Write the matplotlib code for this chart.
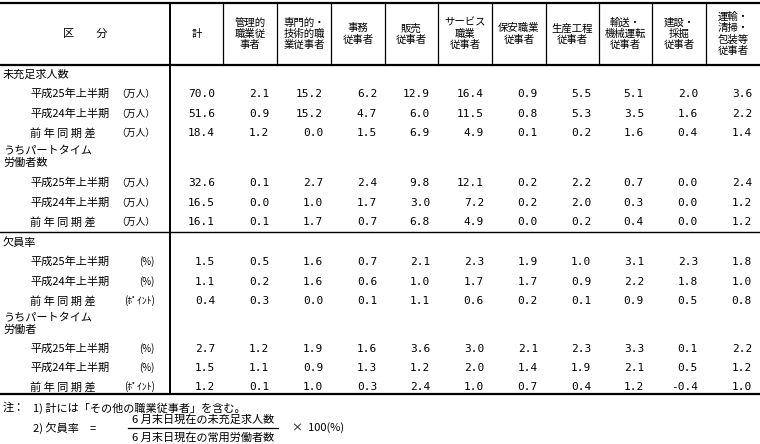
import matplotlib
matplotlib.use("Agg")
import matplotlib.pyplot as plt

plt.rcParams['font.family'] = ['Noto Sans CJK JP', 'DejaVu Sans']

headers = ["計", "管理的\n職業従\n事者", "専門的・\n技術的職\n業従事者", "事務\n従事者", "販売\n従事者",
           "サービス\n職業\n従事者", "保安職業\n従事者", "生産工程\n従事者", "輸送・\n機械運転\n従事者",
           "建設・\n採掘\n従事者", "運輸・\n清掃・\n包装等\n従事者"]

row_labels = ["平成25年上半期", "平成24年上半期", "前 年 同 期 差"]

vac_all = [[70.0, 2.1, 15.2, 6.2, 12.9, 16.4, 0.9, 5.5, 5.1, 2.0, 3.6],
           [51.6, 0.9, 15.2, 4.7, 6.0, 11.5, 0.8, 5.3, 3.5, 1.6, 2.2],
           [18.4, 1.2, 0.0, 1.5, 6.9, 4.9, 0.1, 0.2, 1.6, 0.4, 1.4]]
vac_part = [[32.6, 0.1, 2.7, 2.4, 9.8, 12.1, 0.2, 2.2, 0.7, 0.0, 2.4],
            [16.5, 0.0, 1.0, 1.7, 3.0, 7.2, 0.2, 2.0, 0.3, 0.0, 1.2],
            [16.1, 0.1, 1.7, 0.7, 6.8, 4.9, 0.0, 0.2, 0.4, 0.0, 1.2]]
rate_all = [[1.5, 0.5, 1.6, 0.7, 2.1, 2.3, 1.9, 1.0, 3.1, 2.3, 1.8],
            [1.1, 0.2, 1.6, 0.6, 1.0, 1.7, 1.7, 0.9, 2.2, 1.8, 1.0],
            [0.4, 0.3, 0.0, 0.1, 1.1, 0.6, 0.2, 0.1, 0.9, 0.5, 0.8]]
rate_part = [[2.7, 1.2, 1.9, 1.6, 3.6, 3.0, 2.1, 2.3, 3.3, 0.1, 2.2],
             [1.5, 1.1, 0.9, 1.3, 1.2, 2.0, 1.4, 1.9, 2.1, 0.5, 1.2],
             [1.2, 0.1, 1.0, 0.3, 2.4, 1.0, 0.7, 0.4, 1.2, -0.4, 1.0]]

col_x = [170, 223, 277, 331, 385, 438, 492, 546, 599, 652, 706, 760]

fig = plt.figure(figsize=(7.6, 4.44), dpi=100)
ax = fig.add_axes([0, 0, 1, 1])
ax.set_xlim(0, 760)
ax.set_ylim(444, 0)
ax.axis('off')

fs = 8
lc = 'black'
# horizontal rules
ax.plot([0, 760], [3, 3], color=lc, lw=1.6)
ax.plot([0, 760], [65, 65], color=lc, lw=1.6)
ax.plot([0, 760], [232, 232], color=lc, lw=1.0)
ax.plot([0, 760], [394, 394], color=lc, lw=1.6)
# vertical rules
ax.plot([170, 170], [3, 394], color=lc, lw=1.4)
for x in col_x[1:-1]:
    ax.plot([x, x], [3, 65], color=lc, lw=0.9)

ax.text(85, 34, "区　　分", ha='center', va='center', fontsize=fs)
for i, h in enumerate(headers):
    ax.text((col_x[i] + col_x[i + 1]) / 2, 34, h, ha='center', va='center', fontsize=fs - 0.5,
            linespacing=1.15)


def block(title, y_title, y_rows, data, units):
    ax.text(3, y_title, title, ha='left', va='center', fontsize=fs, linespacing=1.2)
    for r in range(3):
        y = y_rows[r]
        ax.text(30, y, row_labels[r], ha='left', va='center', fontsize=fs)
        ax.text(155, y, units[r], ha='right', va='center', fontsize=fs - 1)
        for c, v in enumerate(data[r]):
            ax.text(col_x[c + 1] - 8, y, f"{v:.1f}", ha='right', va='center', fontsize=fs,
                    family=['DejaVu Sans Mono'])


block("未充足求人数", 75, [94, 114, 133], vac_all, ["（万人）"] * 3)
block("うちパートタイム\n労働者数", 157, [183, 203, 222], vac_part, ["（万人）"] * 3)
block("欠員率", 243, [262, 282, 301], rate_all, ["(%)", "(%)", "(ﾎﾟｲﾝﾄ)"])
block("うちパートタイム\n労働者", 324, [349, 368, 387], rate_part, ["(%)", "(%)", "(ﾎﾟｲﾝﾄ)"])

ax.text(3, 408, "注：", ha='left', va='center', fontsize=fs)
ax.text(33, 408, "1) 計には「その他の職業従事者」を含む。", ha='left', va='center', fontsize=fs)
ax.text(33, 428, "2) 欠員率　=", ha='left', va='center', fontsize=fs)
ax.plot([128, 278], [428, 428], color=lc, lw=0.9)
ax.text(203, 420, "6 月末日現在の未充足求人数", ha='center', va='center', fontsize=fs)
ax.text(203, 437, "6 月末日現在の常用労働者数", ha='center', va='center', fontsize=fs)
ax.text(292, 428, "×  100(%)", ha='left', va='center', fontsize=fs)

fig.savefig("out.png", dpi=100, facecolor='white')
